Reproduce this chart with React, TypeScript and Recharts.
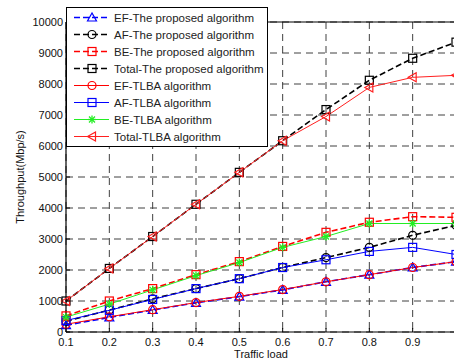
import { CartesianGrid, Line, LineChart, ReferenceLine, XAxis, YAxis } from 'recharts'

const load = [0.1, 0.2, 0.3, 0.4, 0.5, 0.6, 0.7, 0.8, 0.9, 1.0]
const efProposed = [220, 470, 710, 940, 1140, 1360, 1620, 1850, 2080, 2270]
const afProposed = [350, 710, 1070, 1400, 1720, 2080, 2400, 2730, 3120, 3440]
const beProposed = [520, 1000, 1400, 1850, 2270, 2760, 3215, 3540, 3720, 3700]
const totalProposed = [1000, 2050, 3080, 4120, 5150, 6170, 7175, 8120, 8830, 9350]
const efTlba = [250, 490, 720, 950, 1150, 1370, 1620, 1850, 2080, 2270]
const afTlba = [370, 700, 1050, 1400, 1720, 2080, 2330, 2600, 2730, 2500]
const beTlba = [480, 900, 1360, 1820, 2240, 2730, 3080, 3500, 3500, 3500]
const totalTlba = [1000, 2050, 3080, 4120, 5150, 6170, 6950, 7890, 8215, 8280]

const xTicks = [0.1, 0.2, 0.3, 0.4, 0.5, 0.6, 0.7, 0.8, 0.9]
const yTicks = [0, 1000, 2000, 3000, 4000, 5000, 6000, 7000, 8000, 9000, 10000]

const data = load.map((x, i) => ({
  x,
  efP: efProposed[i],
  afP: afProposed[i],
  beP: beProposed[i],
  totP: totalProposed[i],
  efT: efTlba[i],
  afT: afTlba[i],
  beT: beTlba[i],
  totT: totalTlba[i],
}))

type Shape = 'tri' | 'circle' | 'square' | 'star' | 'left'

const SERIES: {
  key: string
  name: string
  color: string
  dashed: boolean
  shape: Shape
}[] = [
  { key: 'efP', name: 'EF-The proposed algorithm', color: '#0000ff', dashed: true, shape: 'tri' },
  { key: 'afP', name: 'AF-The proposed algorithm', color: '#000000', dashed: true, shape: 'circle' },
  { key: 'beP', name: 'BE-The proposed algorithm', color: '#ff0000', dashed: true, shape: 'square' },
  { key: 'totP', name: 'Total-The proposed algorithm', color: '#000000', dashed: true, shape: 'square' },
  { key: 'efT', name: 'EF-TLBA algorithm', color: '#ff0000', dashed: false, shape: 'circle' },
  { key: 'afT', name: 'AF-TLBA algorithm', color: '#0000ff', dashed: false, shape: 'square' },
  { key: 'beT', name: 'BE-TLBA algorithm', color: '#22ee22', dashed: false, shape: 'star' },
  { key: 'totT', name: 'Total-TLBA algorithm', color: '#ff2020', dashed: false, shape: 'left' },
]

function Marker({ cx, cy, shape, color }: { cx: number; cy: number; shape: Shape; color: string }) {
  const common = { fill: 'none', stroke: color, strokeWidth: 1.2 }
  if (shape === 'tri')
    return <polygon points={`${cx},${cy - 4.5} ${cx - 4.5},${cy + 3.5} ${cx + 4.5},${cy + 3.5}`} {...common} />
  if (shape === 'circle') return <circle cx={cx} cy={cy} r={4} {...common} />
  if (shape === 'square') return <rect x={cx - 4} y={cy - 4} width={8} height={8} {...common} />
  if (shape === 'left')
    return <polygon points={`${cx - 4.5},${cy} ${cx + 3.5},${cy - 4.5} ${cx + 3.5},${cy + 4.5}`} {...common} />
  return (
    <g stroke={color} strokeWidth={1.3}>
      <line x1={cx - 4} y1={cy} x2={cx + 4} y2={cy} />
      <line x1={cx} y1={cy - 4} x2={cx} y2={cy + 4} />
      <line x1={cx - 3} y1={cy - 3} x2={cx + 3} y2={cy + 3} />
      <line x1={cx - 3} y1={cy + 3} x2={cx + 3} y2={cy - 3} />
    </g>
  )
}

function YTick({ x, y, payload }: any) {
  return (
    <g>
      <line x1={x + 3} y1={y} x2={x + 7} y2={y} stroke="#000" />
      <text x={x} y={y} dy={4} textAnchor="end" fontSize={11} fill="#111">
        {payload.value}
      </text>
    </g>
  )
}

function XTick({ x, y, payload }: any) {
  return (
    <g>
      <line x1={x} y1={y - 4} x2={x} y2={y - 8} stroke="#000" />
      <text x={x} y={y} dy={10} textAnchor="middle" fontSize={11} fill="#111">
        {payload.value.toFixed(1)}
      </text>
    </g>
  )
}

function LegendBox() {
  return (
    <div
      style={{
        position: 'absolute',
        left: 66,
        top: 7,
        width: 200,
        padding: '1px 0',
        background: '#fff',
        border: '1px solid #000',
        fontFamily: '"Liberation Sans", Arial, sans-serif',
        fontSize: 11.5,
        color: '#222',
      }}
    >
      {SERIES.map((s) => (
        <div key={s.key} style={{ display: 'flex', alignItems: 'center', height: 17 }}>
          <svg width={47} height={17} style={{ flex: 'none' }}>
            <line
              x1={7}
              y1={8.5}
              x2={42}
              y2={8.5}
              stroke={s.color}
              strokeWidth={s.dashed ? 1.5 : 1}
              strokeDasharray={s.dashed ? '6 3' : undefined}
            />
            <Marker cx={25} cy={8.5} shape={s.shape} color={s.color} />
          </svg>
          <span style={{ whiteSpace: 'nowrap' }}>{s.name}</span>
        </div>
      ))}
    </div>
  )
}

export default function App() {
  return (
    <div
      style={{
        position: 'absolute',
        left: 0,
        top: 0,
        width: 454,
        height: 362,
        overflow: 'hidden',
        background: '#fff',
        fontFamily: '"Liberation Sans", Arial, sans-serif',
      }}
    >
      <LineChart width={470} height={362} data={data} margin={{ top: 22, right: 14, bottom: 0, left: 6 }}>
        <CartesianGrid stroke="#404040" strokeDasharray="7 5" />
        <XAxis
          dataKey="x"
          type="number"
          domain={[0.1, 1.0]}
          ticks={xTicks}
          height={30}
          tickSize={0}
          tickMargin={4}
          tick={<XTick />}
          axisLine={{ stroke: '#000', strokeWidth: 1.2 }}
          tickLine={false}
          label={{ value: 'Traffic load', position: 'insideBottom', offset: 4, fontSize: 11, fill: '#111' }}
        />
        <YAxis
          type="number"
          domain={[0, 10000]}
          ticks={yTicks}
          width={60}
          tickSize={0}
          tickMargin={3}
          tick={<YTick />}
          axisLine={{ stroke: '#000', strokeWidth: 1.2 }}
          tickLine={false}
          interval={0}
          label={{
            value: 'Throughput(Mbp/s)',
            angle: -90,
            position: 'insideLeft',
            offset: 14,
            fontSize: 11,
            fill: '#111',
            style: { textAnchor: 'middle' },
          }}
        />
        <ReferenceLine y={10000} stroke="#000" strokeWidth={1.2} />
        <ReferenceLine x={1.0} stroke="#000" strokeWidth={1.2} />
        {SERIES.map((s) => (
          <Line
            key={s.key}
            dataKey={s.key}
            name={s.name}
            stroke={s.color}
            strokeWidth={s.dashed ? 1.6 : 1}
            strokeDasharray={s.dashed ? '6 3' : undefined}
            isAnimationActive={false}
            dot={(p: any) => <Marker key={p.index} cx={p.cx} cy={p.cy} shape={s.shape} color={s.color} />}
            activeDot={false}
          />
        ))}
      </LineChart>
      <LegendBox />
    </div>
  )
}
